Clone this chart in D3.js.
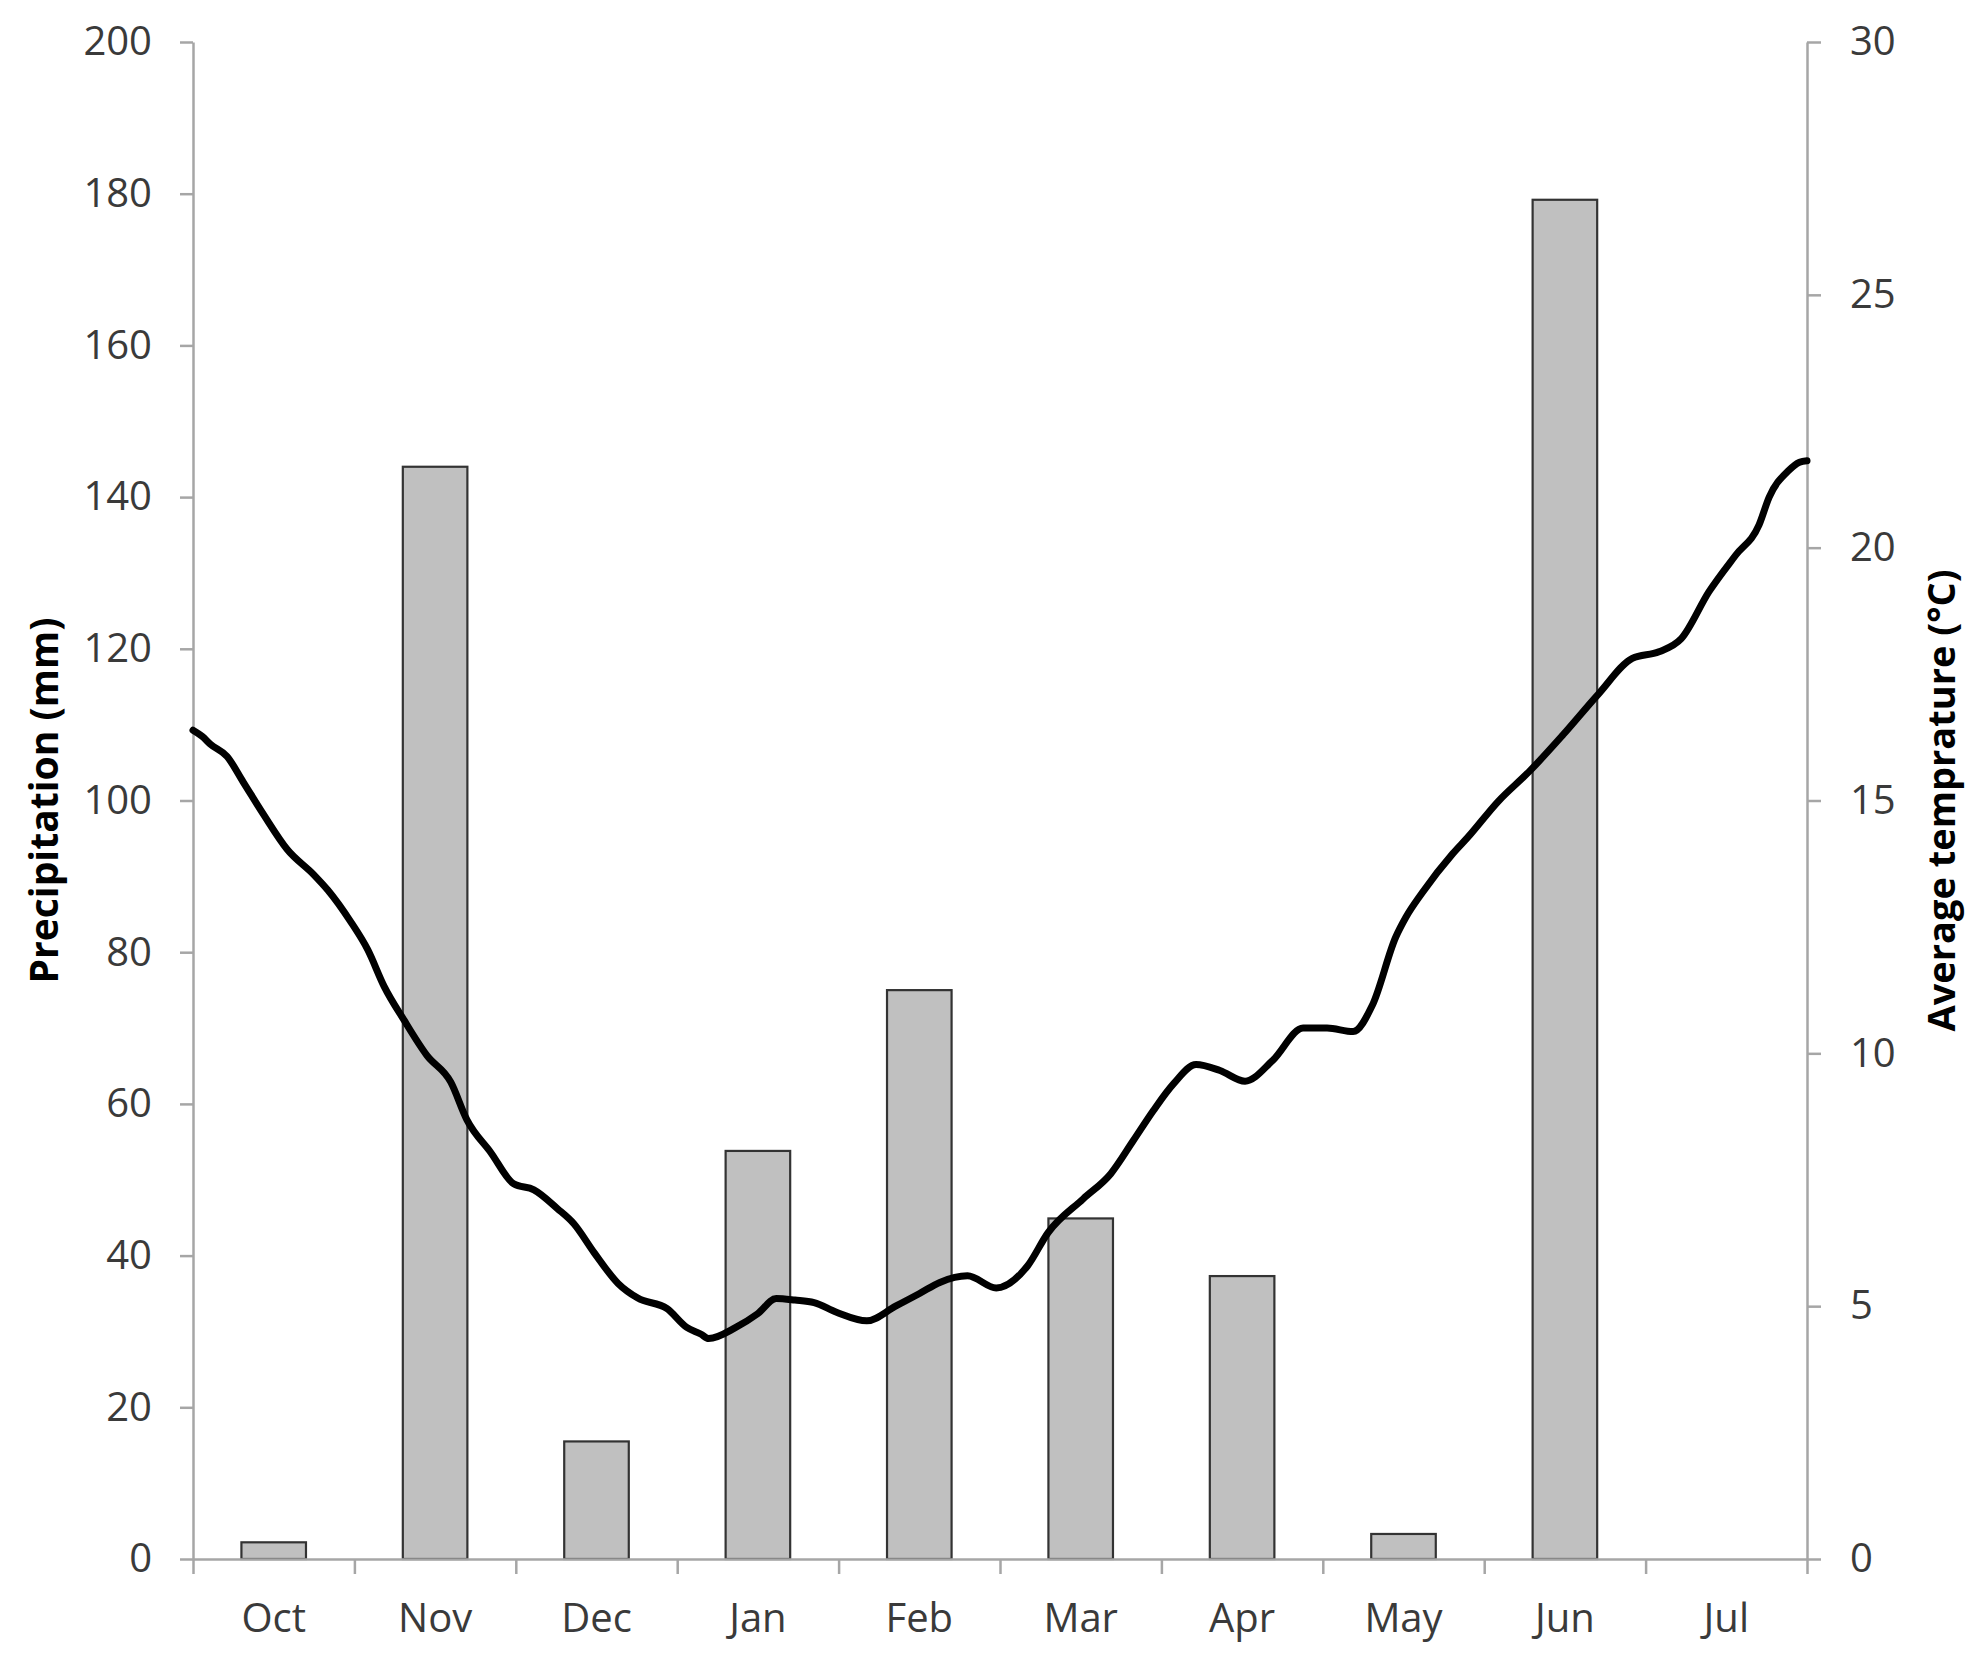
<!DOCTYPE html>
<html>
<head>
<meta charset="utf-8">
<script src="https://cdn.jsdelivr.net/npm/d3@7/dist/d3.min.js"></script>
<style>
  html, body { margin: 0; padding: 0; background: #fff; }
  svg { display: block; }
</style>
</head>
<body>
<svg id="chart" width="1972" height="1653"></svg>
<script>
// ---- data ----
const months = ["Oct", "Nov", "Dec", "Jan", "Feb", "Mar", "Apr", "May", "Jun", "Jul"];
const precipitation = [2.2, 144, 15.5, 53.8, 75, 44.9, 37.3, 3.3, 179.2, 0];
const precipTicks = [0, 20, 40, 60, 80, 100, 120, 140, 160, 180, 200];
const tempTicks = [0, 5, 10, 15, 20, 25, 30];
// daily index from 1 Oct (0) to 31 Jul (303)
const tempDay = [0, 1.7, 3.3, 6.4, 9.4, 13.2, 17.7, 22.7, 25.3, 29.5, 32.8, 35.9, 39.6, 43.9, 48.4, 51.4,
  55.9, 60.2, 64.0, 68.4, 71.5, 75.3, 79.8, 83.5, 89.0, 92.7, 95.3, 96.8, 101.9, 106.0, 109.5, 113.0,
  116.6, 120.8, 126.5, 131.9, 136.4, 140.2, 145.4, 150.8, 156.7, 160.5, 167.1, 172.3, 176.5, 180.3,
  184.1, 188.3, 192.8, 197.5, 202.7, 208.4, 212.9, 217.8, 221.4, 225.8, 227.7, 230.8, 236.5, 239.3,
  245.0, 251.1, 257.2, 263.8, 270.2, 275.2, 279.4, 284.6, 289.6, 294.0, 295.9, 299.5, 301.6, 303];
const tempValue = [16.39, 16.27, 16.11, 15.87, 15.37, 14.73, 14.03, 13.53, 13.23, 12.62, 12.05, 11.32, 10.66, 9.96, 9.43, 8.69,
  8.04, 7.42, 7.30, 6.93, 6.63, 6.06, 5.45, 5.16, 4.95, 4.58, 4.45, 4.36, 4.58, 4.85, 5.15, 5.12,
  5.07, 4.88, 4.71, 5.0, 5.25, 5.47, 5.6, 5.36, 5.8, 6.45, 7.12, 7.62, 8.27, 8.87,
  9.4, 9.78, 9.66, 9.45, 9.86, 10.5, 10.5, 10.43, 10.95, 12.3, 12.69, 13.18, 13.95, 14.27,
  14.98, 15.6, 16.3, 17.1, 17.81, 17.94, 18.2, 19.13, 19.85, 20.45, 21.0, 21.52, 21.69, 21.72];
const leftTitle = "Precipitation (mm)";
const rightTitle = "Average temprature (°C)";

// ---- layout ----
const W = 1972, H = 1653;
const m = { left: 193, right: W - 1807, top: 42, bottom: H - 1559 };
const FONT = "'Open Sans', 'DejaVu Sans', sans-serif";
const AXIS = "#a6a6a6";
const TXT = "#3a3a3a";

const svg = d3.select("#chart");
svg.append("rect").attr("width", W).attr("height", H).attr("fill", "#fff");

const x = d3.scaleBand().domain(months).range([m.left, W - m.right]).paddingInner(0.6).paddingOuter(0.3);
const xBound = d3.scaleLinear().domain([0, months.length]).range([m.left, W - m.right]);
const xDay = d3.scaleLinear().domain([0, 303]).range([m.left, W - m.right]);
const yP = d3.scaleLinear().domain([0, 200]).range([H - m.bottom, m.top]);
const yT = d3.scaleLinear().domain([0, 30]).range([H - m.bottom, m.top]);

function styleAxis(g) {
  g.select(".domain").attr("stroke", AXIS).attr("stroke-width", 2.5);
  g.selectAll(".tick line").attr("stroke", AXIS).attr("stroke-width", 2.5);
  g.selectAll(".tick text").attr("fill", TXT).attr("font-family", FONT).attr("font-size", 40);
}

// bars
svg.append("g").selectAll("rect")
  .data(months.map((mo, i) => ({ mo, v: precipitation[i] })).filter(d => d.v > 0))
  .join("rect")
  .attr("x", d => x(d.mo))
  .attr("width", x.bandwidth())
  .attr("y", d => yP(d.v))
  .attr("height", d => yP(0) - yP(d.v))
  .attr("fill", "#c0c0c0")
  .attr("stroke", "#333")
  .attr("stroke-width", 2.2);

// x axis: boundary ticks
svg.append("g")
  .attr("transform", `translate(0,${H - m.bottom})`)
  .call(d3.axisBottom(xBound).tickValues(d3.range(0, months.length + 1)).tickFormat("").tickSize(15).tickSizeOuter(0))
  .call(styleAxis);
// x axis labels
svg.append("g")
  .attr("transform", `translate(0,${H - m.bottom})`)
  .call(d3.axisBottom(x).tickSize(0).tickPadding(45))
  .call(g => g.select(".domain").remove())
  .call(styleAxis);

// left axis
svg.append("g")
  .attr("transform", `translate(${m.left},0)`)
  .call(d3.axisLeft(yP).tickValues(precipTicks).tickSize(13).tickPadding(28).tickSizeOuter(0))
  .call(styleAxis);

// right axis
svg.append("g")
  .attr("transform", `translate(${W - m.right},0)`)
  .call(d3.axisRight(yT).tickValues(tempTicks).tickSize(14).tickPadding(29).tickSizeOuter(0))
  .call(styleAxis);

// temperature line
const line = d3.line()
  .x((d, i) => xDay(tempDay[i]))
  .y(d => yT(d))
  .curve(d3.curveMonotoneX);
svg.append("path")
  .datum(tempValue)
  .attr("d", line)
  .attr("fill", "none")
  .attr("stroke", "#000")
  .attr("stroke-width", 7)
  .attr("stroke-linejoin", "round")
  .attr("stroke-linecap", "round");

// titles
svg.append("text")
  .attr("transform", `translate(58,${(m.top + H - m.bottom) / 2}) rotate(-90)`)
  .attr("text-anchor", "middle")
  .attr("font-family", FONT).attr("font-weight", "bold").attr("font-size", 39)
  .attr("fill", "#000")
  .text(leftTitle);
svg.append("text")
  .attr("transform", `translate(1955,${(m.top + H - m.bottom) / 2}) rotate(-90)`)
  .attr("text-anchor", "middle")
  .attr("font-family", FONT).attr("font-weight", "bold").attr("font-size", 38)
  .attr("fill", "#000")
  .text(rightTitle);
</script>
</body>
</html>
